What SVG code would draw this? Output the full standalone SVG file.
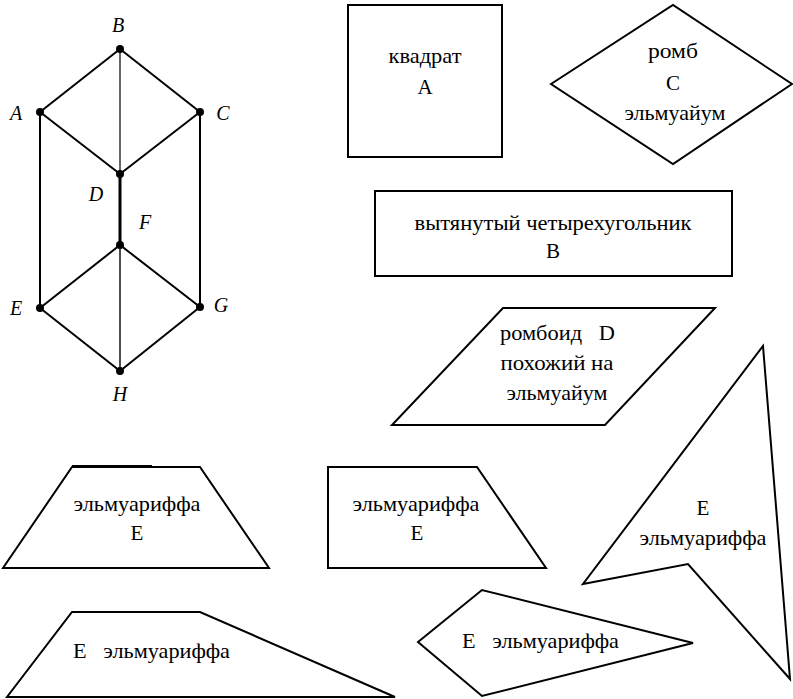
<svg xmlns="http://www.w3.org/2000/svg" width="793" height="699" viewBox="0 0 793 699">
<style>
.s{fill:#fff;stroke:#000;stroke-width:2;stroke-linejoin:miter}
.t{font-family:'Liberation Serif','DejaVu Serif',serif;font-size:21px;font-style:normal;font-weight:400;fill:#000}
.c{text-anchor:middle}
.l{font-family:'Liberation Serif','DejaVu Serif',serif;font-size:20px;font-style:italic;fill:#000;text-anchor:middle}
.e{stroke:#000;stroke-width:2;fill:none}
.n{fill:#000}
</style>
<rect width="793" height="699" fill="#fff"/>
<g id="connectors">
<line class="e" x1="120" y1="49" x2="40" y2="112"/>
<line class="e" x1="120" y1="49" x2="200" y2="112"/>
<line class="e" x1="40" y1="112" x2="120" y2="174"/>
<line class="e" x1="200" y1="112" x2="120" y2="174"/>
<line class="e" x1="120" y1="49" x2="120" y2="174" style="stroke-width:1.2"/>
<line class="e" x1="120" y1="174" x2="120" y2="245" style="stroke-width:3"/>
<line class="e" x1="40" y1="112" x2="40" y2="308"/>
<line class="e" x1="200" y1="112" x2="200" y2="307"/>
<line class="e" x1="120" y1="245" x2="40" y2="308"/>
<line class="e" x1="120" y1="245" x2="200" y2="307"/>
<line class="e" x1="120" y1="245" x2="120" y2="371" style="stroke-width:1.4"/>
<line class="e" x1="40" y1="308" x2="120" y2="371"/>
<line class="e" x1="200" y1="307" x2="120" y2="371"/>
</g>
<g id="node-B"><circle class="n" cx="120" cy="49" r="4"/><text class="l" x="118" y="32">B</text></g>
<g id="node-A"><circle class="n" cx="40" cy="112" r="4"/><text class="l" x="16" y="120">A</text></g>
<g id="node-C"><circle class="n" cx="200" cy="112" r="4"/><text class="l" x="223" y="120">C</text></g>
<g id="node-D"><circle class="n" cx="120" cy="174" r="4"/><text class="l" x="96" y="201">D</text></g>
<g id="node-F"><circle class="n" cx="120" cy="245" r="4"/><text class="l" x="145" y="229">F</text></g>
<g id="node-E"><circle class="n" cx="40" cy="308" r="4"/><text class="l" x="16" y="315">E</text></g>
<g id="node-G"><circle class="n" cx="200" cy="307" r="4"/><text class="l" x="221" y="312">G</text></g>
<g id="node-H"><circle class="n" cx="120" cy="371" r="4"/><text class="l" x="120" y="401">H</text></g>

<g id="square-A">
<rect class="s" x="348" y="5" width="154" height="152"/>
<text class="t c" x="425" y="63" textLength="73" lengthAdjust="spacingAndGlyphs">квадрат</text>
<text class="t c" x="425" y="94">A</text>
</g>
<g id="rhomb-C">
<polygon class="s" points="551,84 673,5 792,84 673,164"/>
<text class="t c" x="673" y="58" textLength="50" lengthAdjust="spacingAndGlyphs">ромб</text>
<text class="t c" x="673" y="90">C</text>
<text class="t c" x="675" y="120" textLength="101" lengthAdjust="spacingAndGlyphs">эльмуайум</text>
</g>
<g id="rect-B">
<rect class="s" x="375" y="191" width="357" height="85"/>
<text class="t c" x="553" y="230" textLength="277" lengthAdjust="spacingAndGlyphs">вытянутый четырехугольник</text>
<text class="t c" x="553" y="258">B</text>
</g>
<g id="rhomboid-D">
<polygon class="s" points="503,308 715,308 605,425 392,425"/>
<text class="t" x="500" y="340" xml:space="preserve" textLength="115" lengthAdjust="spacingAndGlyphs">ромбоид   D</text>
<text class="t c" x="557" y="370" textLength="113" lengthAdjust="spacingAndGlyphs">похожий на</text>
<text class="t c" x="557" y="400" textLength="101" lengthAdjust="spacingAndGlyphs">эльмуайум</text>
</g>
<g id="trap-E1">
<polygon class="s" points="72,467 200,467 269,568 3,568"/>
<line x1="72" y1="466" x2="152" y2="466" stroke="#000" stroke-width="2"/>
<text class="t c" x="137" y="511" textLength="127" lengthAdjust="spacingAndGlyphs">эльмуариффа</text>
<text class="t c" x="137" y="540">E</text>
</g>
<g id="trap-E2">
<polygon class="s" points="328,467 477,467 546,568 328,568"/>
<text class="t c" x="416" y="511" textLength="127" lengthAdjust="spacingAndGlyphs">эльмуариффа</text>
<text class="t c" x="417" y="540">E</text>
</g>
<g id="dart-E">
<polygon class="s" points="763,346 790,679 688,564 583,584"/>
<text class="t c" x="703" y="515">E</text>
<text class="t c" x="703" y="545" textLength="127" lengthAdjust="spacingAndGlyphs">эльмуариффа</text>
</g>
<g id="trap-E3">
<polygon class="s" points="72,612 200,612 395,697 7,697"/>
<text class="t" x="73" y="658" xml:space="preserve" textLength="157" lengthAdjust="spacingAndGlyphs">E   эльмуариффа</text>
</g>
<g id="kite-E">
<polygon class="s" points="418,642 482,590 693,643 482,696"/>
<text class="t" x="462" y="648" xml:space="preserve" textLength="157" lengthAdjust="spacingAndGlyphs">E   эльмуариффа</text>
</g>
</svg>
